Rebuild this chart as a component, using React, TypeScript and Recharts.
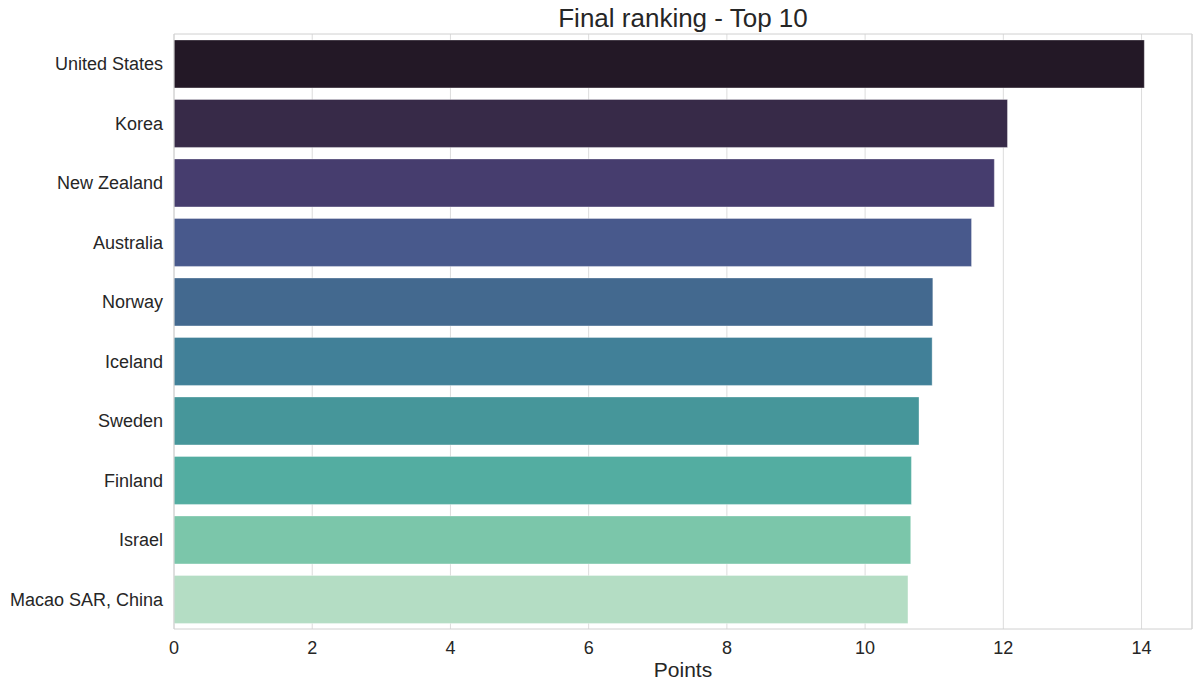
import {
  BarChart,
  Bar,
  XAxis,
  YAxis,
  CartesianGrid,
  Cell,
} from "recharts";

const countries = [
  "United States",
  "Korea",
  "New Zealand",
  "Australia",
  "Norway",
  "Iceland",
  "Sweden",
  "Finland",
  "Israel",
  "Macao SAR, China",
];

const points = [14.04, 12.06, 11.87, 11.54, 10.98, 10.97, 10.78, 10.67, 10.66, 10.62];

const xTicks = [0, 2, 4, 6, 8, 10, 12, 14];
const xDomain = [0, 14.73];

// desaturated mako, dark to light
const barColors = [
  "#231826",
  "#372A48",
  "#463D6E",
  "#48598C",
  "#43698F",
  "#418098",
  "#46969A",
  "#53ADA1",
  "#7BC6AA",
  "#B4DDC4",
];

const FONT = '"Liberation Sans", Arial, sans-serif';
const TEXT = "#262626";
const SPINE = "#d0d0d0";
const GRID = "#dcdcdc";

const chartData = countries.map((country, i) => ({ country, points: points[i] }));

export default function App() {
  return (
    <div
      style={{
        position: "absolute",
        left: 0,
        top: 0,
        width: 1200,
        height: 690,
        background: "#fff",
        fontFamily: FONT,
      }}
    >
      <div
        style={{
          position: "absolute",
          left: 174,
          top: 5,
          width: 1018,
          textAlign: "center",
          fontSize: 26,
          lineHeight: 1,
          color: TEXT,
        }}
      >
        Final ranking - Top 10
      </div>
      <BarChart
        width={1200}
        height={690}
        data={chartData}
        layout="vertical"
        margin={{ top: 34, right: 8, bottom: 0, left: 0 }}
        barCategoryGap="10%"
        style={{ fontFamily: FONT }}
      >
        <CartesianGrid horizontal={false} stroke={GRID} />
        {/* top and right spines of the axes box */}
        <CartesianGrid
          stroke={SPINE}
          horizontalCoordinatesGenerator={({ offset }) => [offset.top]}
          verticalCoordinatesGenerator={({ offset }) => [offset.left + offset.width]}
        />
        <XAxis
          type="number"
          dataKey="points"
          domain={xDomain}
          ticks={xTicks}
          allowDataOverflow
          height={61}
          tickLine={false}
          tickSize={6}
          tickMargin={6}
          axisLine={{ stroke: SPINE }}
          tick={{ fontSize: 18, fill: TEXT }}
          label={{
            value: "Points",
            position: "insideBottom",
            offset: 13,
            fontSize: 21,
            fill: TEXT,
          }}
        />
        <YAxis
          type="category"
          dataKey="country"
          width={174}
          tickLine={false}
          tickSize={6}
          tickMargin={5}
          axisLine={{ stroke: SPINE }}
          tick={{ fontSize: 18, fill: TEXT }}
          interval={0}
        />
        <Bar dataKey="points" isAnimationActive={false} stroke="rgba(255,255,255,0.35)" strokeWidth={1}>
          {chartData.map((d, i) => (
            <Cell key={d.country} fill={barColors[i]} />
          ))}
        </Bar>
      </BarChart>
    </div>
  );
}
